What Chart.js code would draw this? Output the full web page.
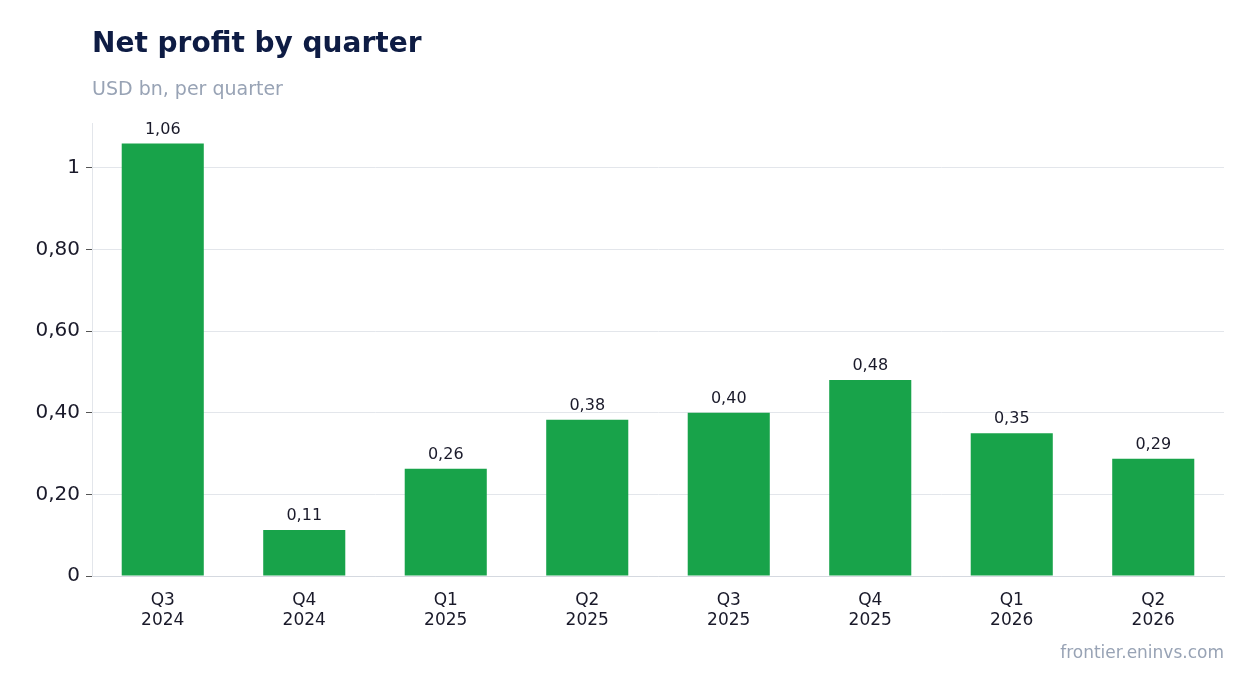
<!DOCTYPE html>
<html>
<head>
<meta charset="utf-8">
<script src="https://cdn.jsdelivr.net/npm/chart.js@4"></script>
<style>
  body { margin: 0; background: #fff; font-family: "DejaVu Sans", sans-serif; }
  #wrap { position: relative; width: 1254px; height: 693px; }
  #c { position: absolute; left: 0; top: 0; }
  .title { position: absolute; left: 92px; top: 26px; font-size: 28px; font-weight: bold; color: #0e1c44; }
  .sub { position: absolute; left: 92px; top: 77px; font-size: 19px; color: #98a3b5; }
  .src { position: absolute; right: 30px; top: 642px; font-size: 17px; color: #98a3b5; }
</style>
</head>
<body>
<div id="wrap">
  <canvas id="c" width="1254" height="693"></canvas>
  <div class="title">Net profit by quarter</div>
  <div class="sub">USD bn, per quarter</div>
  <div class="src">frontier.eninvs.com</div>
</div>
<script>
// ── Data ──────────────────────────────────────────────
const quarters = [["Q3","2024"],["Q4","2024"],["Q1","2025"],["Q2","2025"],["Q3","2025"],["Q4","2025"],["Q1","2026"],["Q2","2026"]];
const profit   = [1.06, 0.113, 0.263, 0.383, 0.40, 0.48, 0.35, 0.287];

const fmt = (v, d) => v === 0 ? "0" : v === 1 ? "1" : v.toFixed(d).replace(".", ",");

// ── Value labels above bars ───────────────────────────
const valueLabels = {
  id: "valueLabels",
  afterDatasetsDraw(chart) {
    const ctx = chart.ctx;
    ctx.save();
    ctx.font = "16px 'DejaVu Sans'";
    ctx.fillStyle = "#1a1a2a";
    ctx.textAlign = "center";
    ctx.textBaseline = "bottom";
    chart.getDatasetMeta(0).data.forEach((bar, i) => {
      ctx.fillText(profit[i].toFixed(2).replace(".", ","), bar.x, bar.y - 6);
    });
    ctx.restore();
  },
};

new Chart(document.getElementById("c"), {
  type: "bar",
  data: {
    labels: quarters,
    datasets: [{
      data: profit,
      backgroundColor: "#18a34a",
      barPercentage: 0.58,
      categoryPercentage: 1,
    }],
  },
  options: {
    responsive: false,
    animation: false,
    layout: { padding: { top: 123, right: 30, left: 0, bottom: 0 } },
    plugins: { legend: { display: false }, tooltip: { enabled: false } },
    scales: {
      x: {
        afterFit: (s) => { s.height = 117; },
        grid: { display: false, drawTicks: true },
        border: { color: "#d5d9e0" },
        ticks: { color: "#1a1a2a", font: { size: 17, family: "'DejaVu Sans'" }, padding: 6 },
      },
      y: {
        min: 0, max: 1.11,
        afterFit: (s) => { s.width = 92; },
        afterBuildTicks: (s) => { s.ticks = [0, 0.2, 0.4, 0.6, 0.8, 1].map(v => ({ value: v })); },
        grid: { color: "#e3e6eb", tickLength: 6, tickColor: "#555" },
        border: { color: "#e3e6eb" },
        ticks: {
          color: "#1a1a2a", font: { size: 20, family: "'DejaVu Sans'" }, padding: 6,
          callback: (v) => fmt(v, 2),
        },
      },
    },
  },
  plugins: [valueLabels],
});
</script>
</body>
</html>
